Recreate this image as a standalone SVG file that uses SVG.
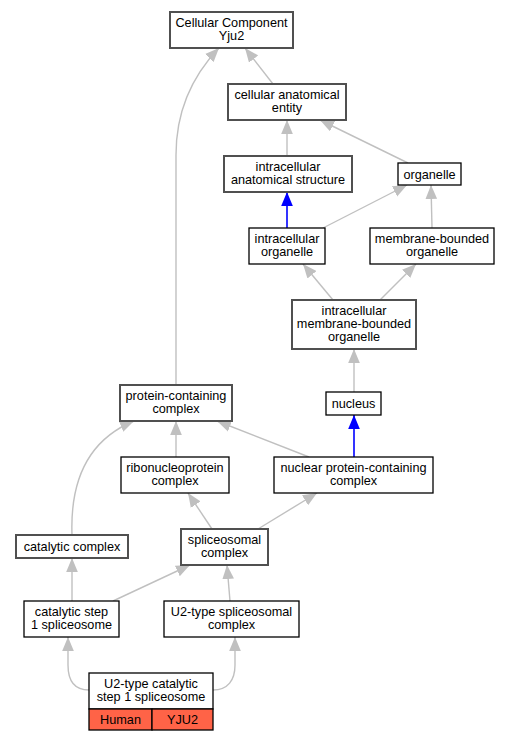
<svg xmlns="http://www.w3.org/2000/svg" width="509" height="741" viewBox="0 0 509 741">
<style>
text{font-family:"Liberation Sans",Arial,sans-serif;font-size:12.7px;fill:#000;text-anchor:middle}
.n{fill:#fff;stroke:#000;stroke-width:1.3}
.m{fill:#fff;stroke:#505050;stroke-width:2}
.e{fill:none;stroke:#c0c0c0;stroke-width:1.4}
.b{fill:none;stroke:#0000ff;stroke-width:1.6}
.h{fill:#ff6347;stroke:#000;stroke-width:1.3}
</style>
<defs>
<marker id="ag" markerUnits="userSpaceOnUse" markerWidth="14" markerHeight="12" refX="12" refY="5" orient="auto" viewBox="0 0 12 10"><path d="M0,0 L12,5 L0,10 Z" fill="#c0c0c0"/></marker>
<marker id="ab" markerUnits="userSpaceOnUse" markerWidth="14" markerHeight="12" refX="12" refY="5" orient="auto" viewBox="0 0 12 10"><path d="M0,0 L12,5 L0,10 Z" fill="#0000ff"/></marker>
</defs>
<g id="edges">
<path class="e" marker-end="url(#ag)" d="M273,84 L245,48"/>
<path class="e" marker-end="url(#ag)" d="M176,385 L176,155 C176,105 196,72 219,48"/>
<path class="e" marker-end="url(#ag)" d="M287,156 L287,120"/>
<path class="e" marker-end="url(#ag)" d="M408,163 L320,120"/>
<path class="b" marker-end="url(#ab)" d="M287,228 L287,192"/>
<path class="e" marker-end="url(#ag)" d="M323,228 L407,185"/>
<path class="e" marker-end="url(#ag)" d="M432,228 L431,185"/>
<path class="e" marker-end="url(#ag)" d="M333,300 L303,264"/>
<path class="e" marker-end="url(#ag)" d="M380,300 L416,264"/>
<path class="e" marker-end="url(#ag)" d="M354,392 L354,349"/>
<path class="b" marker-end="url(#ab)" d="M354,457 L354,415"/>
<path class="e" marker-end="url(#ag)" d="M309,457 L217,421"/>
<path class="e" marker-end="url(#ag)" d="M176,457 L176,421"/>
<path class="e" marker-end="url(#ag)" d="M72,535 C70,480 88,440 134,421"/>
<path class="e" marker-end="url(#ag)" d="M212,529 L188,493"/>
<path class="e" marker-end="url(#ag)" d="M258,529 L317,493"/>
<path class="e" marker-end="url(#ag)" d="M72,601 L72,558"/>
<path class="e" marker-end="url(#ag)" d="M113,601 L190,565"/>
<path class="e" marker-end="url(#ag)" d="M230,601 L227,565"/>
<path class="e" marker-end="url(#ag)" d="M89,690 C74,690 68,680 68,665 L68,637"/>
<path class="e" marker-end="url(#ag)" d="M213,690 C228,690 235,680 235,665 L235,637"/>
</g>
<g id="n1"><rect class="m" x="170" y="12" width="123" height="36"/><text x="231.5" y="26.7">Cellular Component</text><text x="231.5" y="40">Yju2</text></g>
<g id="n2"><rect class="m" x="228" y="84" width="118" height="36"/><text x="287" y="98.7">cellular anatomical</text><text x="287" y="112">entity</text></g>
<g id="n3"><rect class="m" x="224" y="156" width="128" height="36"/><text x="288" y="170.7">intracellular</text><text x="288" y="184">anatomical structure</text></g>
<g id="n4"><rect class="n" x="398" y="163" width="63" height="22"/><text x="429.5" y="178.5">organelle</text></g>
<g id="n5"><rect class="n" x="249" y="228" width="76" height="36"/><text x="287" y="242.7">intracellular</text><text x="287" y="256">organelle</text></g>
<g id="n6"><rect class="n" x="370" y="228" width="124" height="36"/><text x="432" y="242.7">membrane-bounded</text><text x="432" y="256">organelle</text></g>
<g id="n7"><rect class="m" x="292" y="300" width="124" height="49"/><text x="354" y="314.5">intracellular</text><text x="354" y="327.8">membrane-bounded</text><text x="354" y="341.1">organelle</text></g>
<g id="n8"><rect class="n" x="326" y="392" width="55" height="23"/><text x="353.5" y="408">nucleus</text></g>
<g id="n9"><rect class="m" x="120" y="385" width="112" height="36"/><text x="176" y="399.7">protein-containing</text><text x="176" y="413">complex</text></g>
<g id="n10"><rect class="n" x="121" y="457" width="108" height="36"/><text x="175" y="471.7">ribonucleoprotein</text><text x="175" y="485">complex</text></g>
<g id="n11"><rect class="n" x="274" y="457" width="159" height="36"/><text x="353.5" y="471.7">nuclear protein-containing</text><text x="353.5" y="485">complex</text></g>
<g id="n12"><rect class="m" x="181" y="529" width="87" height="36"/><text x="224.5" y="543.7">spliceosomal</text><text x="224.5" y="557">complex</text></g>
<g id="n13"><rect class="m" x="16" y="535" width="112" height="23"/><text x="72" y="551">catalytic complex</text></g>
<g id="n14"><rect class="n" x="24" y="601" width="95" height="36"/><text x="71.5" y="615.7">catalytic step</text><text x="71.5" y="629">1 spliceosome</text></g>
<g id="n15"><rect class="n" x="164" y="601" width="135" height="36"/><text x="231.5" y="615.7">U2-type spliceosomal</text><text x="231.5" y="629">complex</text></g>
<g id="n16"><rect class="n" x="89" y="673" width="124" height="36"/><text x="151" y="687.7">U2-type catalytic</text><text x="151" y="701">step 1 spliceosome</text><rect class="h" x="89" y="709" width="63" height="21"/><rect class="h" x="152" y="709" width="61" height="21"/><text x="120.5" y="724">Human</text><text x="182.5" y="724">YJU2</text></g>
</svg>
